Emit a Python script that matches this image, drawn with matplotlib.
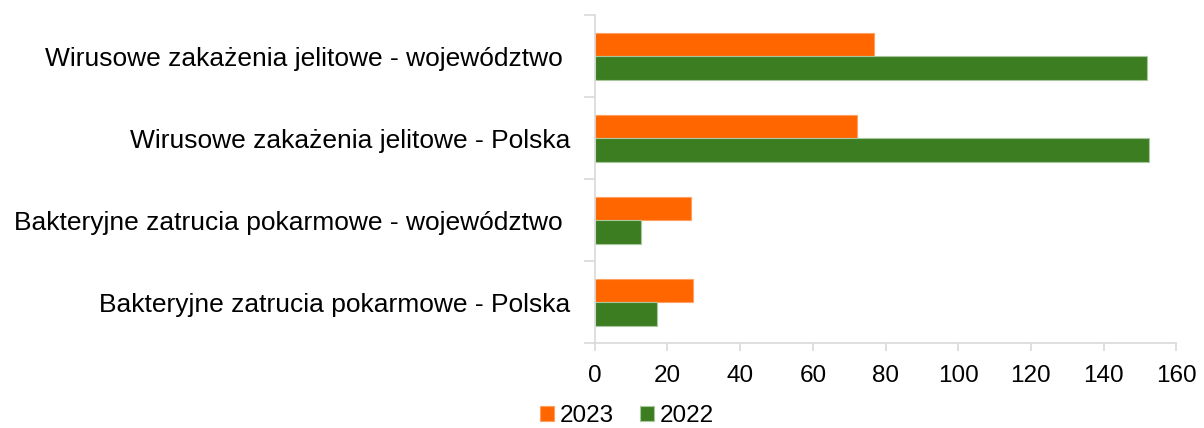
import matplotlib
matplotlib.use('Agg')
import matplotlib.pyplot as plt
import numpy as np

plt.rcParams['font.family'] = ['Liberation Sans', 'DejaVu Sans']

# categories listed from top to bottom
categories = ['Wirusowe zakażenia jelitowe - województwo ',
              'Wirusowe zakażenia jelitowe - Polska',
              'Bakteryjne zatrucia pokarmowe - województwo ',
              'Bakteryjne zatrucia pokarmowe - Polska']
vals_2023 = [76.7, 72.1, 26.4, 27.0]
vals_2022 = [151.8, 152.4, 12.8, 17.1]
xticks = [0, 20, 40, 60, 80, 100, 120, 140, 160]

c2023 = '#ff6600'
c2022 = '#3c7d22'
grid_c = '#d9d9d9'

fig = plt.figure(figsize=(12.04, 4.28), dpi=100)
ax = fig.add_axes([0.494, 0.198, 0.483, 0.766])

y = np.arange(len(categories))
h = 0.285
ax.barh(y - h / 2, vals_2023, height=h, color=c2023, edgecolor='#ffa060', linewidth=0.8, label='2023')
ax.barh(y + h / 2, vals_2022, height=h, color=c2022, edgecolor='#a9c79c', linewidth=0.8, label='2022')

ax.set_xlim(0, 160)
ax.set_ylim(len(categories) - 0.5, -0.5)
ax.set_xticks(xticks)
ax.set_xticklabels([str(t) for t in xticks], fontsize=17.5)

# category labels centred, tick marks on the group boundaries
ax.set_yticks(y)
ax.set_yticklabels(categories, fontsize=19)
ax.tick_params(axis='y', length=0, pad=17.5)
ax.set_yticks(np.arange(-0.5, len(categories)), minor=True)
ax.tick_params(axis='y', which='minor', length=8, color=grid_c, width=1.2)
ax.tick_params(axis='x', length=6, color=grid_c, width=1.2, pad=10)

for s in ['top', 'right']:
    ax.spines[s].set_visible(False)
for s in ['left', 'bottom']:
    ax.spines[s].set_color(grid_c)
    ax.spines[s].set_linewidth(1.2)

fig.legend(loc='center', bbox_to_anchor=(0.521, 0.027), ncol=2, frameon=False,
           fontsize=17.5, handlelength=0.57, handleheight=0.57, handletextpad=0.25,
           columnspacing=1.07, borderaxespad=0, borderpad=0)

plt.savefig('out.png', dpi=100)
